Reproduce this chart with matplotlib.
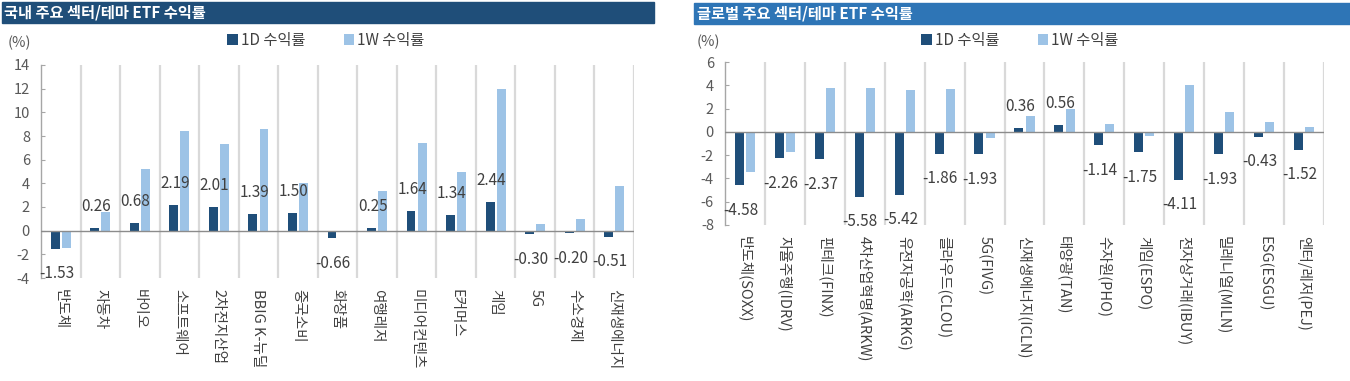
import matplotlib
matplotlib.use("Agg")
import matplotlib.pyplot as plt
from matplotlib.patches import Rectangle
import numpy as np

plt.rcParams['font.family'] = ['Noto Sans CJK KR', 'DejaVu Sans']

# ---- data ----
kr_categories = ["반도체", "자동차", "바이오", "소프트웨어", "2차전지산업", "BBIG K-뉴딜",
                 "중국소비", "화장품", "여행레저", "미디어컨텐츠", "E커머스", "게임",
                 "5G", "수소경제", "신재생에너지"]
kr_1d = [-1.53, 0.26, 0.68, 2.19, 2.01, 1.39, 1.50, -0.66, 0.25, 1.64, 1.34, 2.44,
         -0.30, -0.20, -0.51]
kr_1w = [-1.45, 1.60, 5.20, 8.40, 7.35, 8.55, 4.05, 0.0, 3.35, 7.45, 5.00, 12.00,
         0.55, 0.95, 3.75]

gl_categories = ["반도체(SOXX)", "자율주행(IDRV)", "핀테크(FINX)", "4차산업혁명(ARKW)",
                 "유전자공학(ARKG)", "클라우드(CLOU)", "5G(FIVG)", "신재생에너지(ICLN)",
                 "태양광(TAN)", "수자원(PHO)", "게임(ESPO)", "전자상거래(IBUY)",
                 "밀레니얼(MILN)", "ESG(ESGU)", "엔터/레저(PEJ)"]
gl_1d = [-4.58, -2.26, -2.37, -5.58, -5.42, -1.86, -1.93, 0.36, 0.56, -1.14, -1.75,
         -4.11, -1.93, -0.43, -1.52]
gl_1w = [-3.45, -1.70, 3.75, 3.75, 3.60, 3.70, -0.55, 1.35, 2.00, 0.65, -0.35,
         4.05, 1.70, 0.85, 0.45]

kr_title = "국내 주요 섹터/테마 ETF 수익률"
gl_title = "글로벌 주요 섹터/테마 ETF 수익률"
series_names = ["1D 수익률", "1W 수익률"]

C_1D = "#1F4E79"
C_1W = "#9DC3E6"
GRID = "#D9D9D9"
TXT = "#404040"
W, H = 1350, 381

fig = plt.figure(figsize=(W / 100, H / 100), dpi=100)


def fx(px):
    return px / W


def fy(py):
    return 1 - py / H


def draw(ax, cats, d1, dw, ylim, yticks):
    n = len(cats)
    x = np.arange(n)
    bw = 0.225
    off = 0.14
    b1 = ax.bar(x - off, d1, bw, color=C_1D, zorder=3, label=series_names[0])
    b2 = ax.bar(x + off, dw, bw, color=C_1W, zorder=3, label=series_names[1])
    ax.set_xlim(-0.5, n - 0.5)
    ax.set_ylim(*ylim)
    ax.set_yticks(yticks)
    ax.set_yticklabels([str(t) for t in yticks])
    for b in np.arange(0.5, n, 1.0):
        ax.axvline(b, color=GRID, lw=1.6, zorder=1)
    ax.axhline(0, color="#8C8C8C", lw=1.0, zorder=4)
    for s in ["top", "right", "bottom"]:
        ax.spines[s].set_visible(False)
    ax.spines["left"].set_color("#A6A6A6")
    ax.spines["left"].set_linewidth(1.0)
    ax.tick_params(axis="y", direction="in", length=3, color="#A6A6A6",
                   labelsize=10.5, labelcolor="#595959", pad=8)
    ax.tick_params(axis="x", length=0, pad=8)
    ax.set_xticks(x)
    ax.set_xticklabels(cats, rotation=-90, fontsize=10.5, color=TXT,
                       va="top", ha="center")
    for xi, v in zip(x, d1):
        dy = 15.5 if v >= 0 else -18
        ax.annotate(f"{v:.2f}", (xi - off + 0.03, v), xytext=(0, dy),
                    textcoords="offset points", ha="center", va="center",
                    fontsize=11, color=TXT, zorder=5)
    return b1, b2


ax1 = fig.add_axes([fx(41), fy(278), fx(634 - 41), (278 - 65) / H])
h1 = draw(ax1, kr_categories, kr_1d, kr_1w, (-4, 14), list(range(-4, 15, 2)))

ax2 = fig.add_axes([fx(725), fy(225), fx(1324 - 725), (225 - 62) / H])
h2 = draw(ax2, gl_categories, gl_1d, gl_1w, (-8, 6), list(range(-8, 7, 2)))

# title bars
fig.patches.append(Rectangle((fx(2), fy(23)), fx(654 - 2), (23 - 2) / H,
                             transform=fig.transFigure, color="#1F4E79", zorder=0))
fig.patches.append(Rectangle((fx(694), fy(24)), fx(1350 - 694), (24 - 3) / H,
                             transform=fig.transFigure, color="#2E75B6", zorder=0))
fig.text(fx(4), fy(13), kr_title, color="white", fontsize=11, fontweight="bold",
         ha="left", va="center")
fig.text(fx(697), fy(13.5), gl_title, color="white", fontsize=11, fontweight="bold",
         ha="left", va="center")

# unit labels
fig.text(fx(8), fy(43), "(%)", color="#595959", fontsize=10.5, ha="left", va="center")
fig.text(fx(697), fy(42), "(%)", color="#595959", fontsize=10.5, ha="left", va="center")

# legends
for hs, cx in [(h1, 326), (h2, 1020)]:
    fig.legend(hs, series_names, loc="center", bbox_to_anchor=(fx(cx), fy(40)),
               ncol=2, frameon=False, fontsize=11, handlelength=0.7,
               handleheight=0.7, handletextpad=0.2, columnspacing=2.5,
               labelcolor=TXT)

fig.savefig("out.png", dpi=100)
